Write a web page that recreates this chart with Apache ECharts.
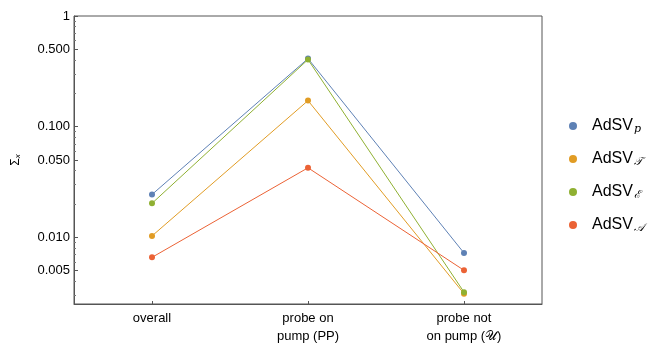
<!DOCTYPE html>
<html>
<head>
<meta charset="utf-8">
<script src="https://cdn.jsdelivr.net/npm/echarts@6/dist/echarts.min.js"></script>
<style>
  html, body { margin: 0; padding: 0; background: #fff; }
  #chart { width: 667px; height: 343px; }
</style>
</head>
<body>
<div id="chart"></div>
<script>
// categories along the x axis
const categories = ['overall', 'probe on\npump (PP)', 'probe not\non pump (\u{1D4B0})'];

// series values
const adsvP = [0.0244, 0.412, 0.00722];
const adsvT = [0.0103, 0.172, 0.0031];
const adsvE = [0.0203, 0.404, 0.0032];
const adsvA = [0.0066, 0.0425, 0.00504];

// y tick labels and minor ticks
const yLabelValues = [0.005, 0.01, 0.05, 0.1, 0.5, 1];
const yMinorTicks = [0.003, 0.004, 0.006, 0.007, 0.008, 0.009,
  0.02, 0.03, 0.04, 0.06, 0.07, 0.08, 0.09,
  0.2, 0.3, 0.4, 0.6, 0.7, 0.8, 0.9];

const seriesNames = ['AdSV{s|p}', 'AdSV{s|\u{1D4AF}}', 'AdSV{s|\u2130}', 'AdSV{s|\u{1D49C}}'];
const colors = ['#5E81B5', '#E19C24', '#8FB032', '#EB6235'];

const chart = echarts.init(document.getElementById('chart'));
const font = 'Liberation Sans, Arial, sans-serif';

const makeLine = (name, data, color) => ({
  name: name,
  type: 'line',
  data: data,
  symbol: 'circle',
  symbolSize: 6,
  itemStyle: { color: color },
  lineStyle: { color: color, width: 1 },
  emphasis: { disabled: true },
  z: 3,
});

const option = {
  animation: false,
  textStyle: { fontFamily: font },
  grid: {
    left: 74,
    right: 125,
    top: 16,
    bottom: 39,
    outerBoundsMode: 'none',
    containLabel: false,
    show: true,
    borderColor: '#555',
    borderWidth: 1,
  },
  legend: {
    orient: 'vertical',
    left: 564,
    top: 113,
    icon: 'circle',
    itemWidth: 14,
    itemHeight: 8,
    itemGap: 16,
    selectedMode: false,
    data: seriesNames,
    textStyle: {
      fontSize: 16,
      color: '#000',
      fontFamily: font,
      padding: [0, 0, 0, 7],
      rich: {
        s: { fontSize: 11, fontStyle: 'italic', padding: [7, 0, 0, 1], fontFamily: 'DejaVu Serif, serif' },
      },
    },
  },
  xAxis: {
    type: 'category',
    data: categories,
    boundaryGap: true,
    axisLine: { show: true, lineStyle: { color: '#555', width: 1 } },
    axisTick: { show: true, inside: true, alignWithLabel: true, length: 3, lineStyle: { color: '#555' } },
    axisLabel: { color: '#000', fontSize: 13, lineHeight: 18, margin: 5, interval: 0 },
    splitLine: { show: false },
  },
  yAxis: [
    {
      type: 'log',
      logBase: 10,
      min: 0.0025,
      max: 1,
      name: '\u03A3{s|x}',
      nameLocation: 'middle',
      nameGap: 52,
      nameRotate: 90,
      nameTextStyle: {
        color: '#000',
        fontSize: 12,
        rich: { s: { fontSize: 8, fontStyle: 'italic', padding: [5, 0, 0, 0] } },
      },
      axisLine: { show: true, lineStyle: { color: '#555', width: 1 } },
      axisTick: { show: true, inside: true, length: 4, customValues: yLabelValues, lineStyle: { color: '#555' } },
      axisLabel: {
        color: '#000',
        fontSize: 13,
        margin: 4,
        customValues: yLabelValues,
        formatter: (v) => (v >= 1 ? '1' : Number(v).toFixed(3)),
      },
      splitLine: { show: false },
      minorTick: { show: false },
    },
    {
      type: 'log',
      logBase: 10,
      min: 0.0025,
      max: 1,
      position: 'left',
      axisLine: { show: false },
      axisTick: { show: true, inside: true, length: 2, customValues: yMinorTicks, lineStyle: { color: '#777' } },
      axisLabel: { show: false },
      splitLine: { show: false },
    },
  ],
  series: [
    makeLine(seriesNames[0], adsvP, colors[0]),
    makeLine(seriesNames[1], adsvT, colors[1]),
    makeLine(seriesNames[2], adsvE, colors[2]),
    makeLine(seriesNames[3], adsvA, colors[3]),
  ],
};

chart.setOption(option);
</script>
</body>
</html>
